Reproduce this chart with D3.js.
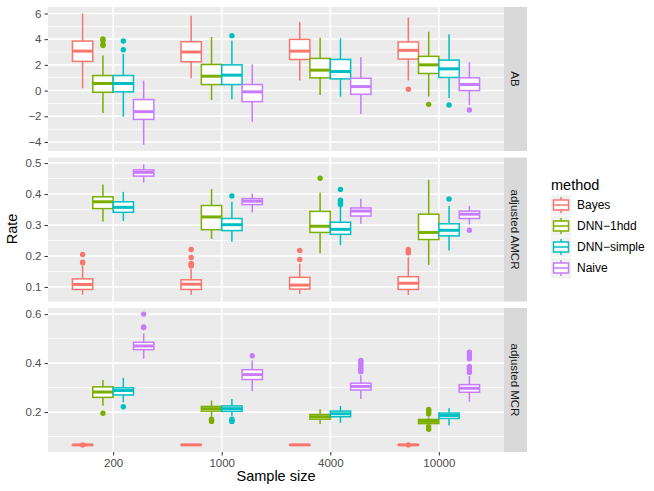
<!DOCTYPE html>
<html><head><meta charset="utf-8">
<script src="https://cdn.jsdelivr.net/npm/d3@7"></script>
<style>body{margin:0;background:#fff}svg{display:block;font-family:"Liberation Sans",Arial,Helvetica,sans-serif}</style>
</head><body><svg id="c" width="654" height="491"></svg>
<script>
const sampleSizes = ["200","1000","4000","10000"];
const methods = ["Bayes","DNN\u22121hdd","DNN\u2212simple","Naive"];
const metrics = ["AB","adjusted AMCR","adjusted MCR"];
const colors = ["#F8766D","#7CAE00","#00BFC4","#C77CFF"];

// five-number summaries [lowWhisker, q1, median, q3, highWhisker] per sample size
const abBayes   = [[0.18,2.27,3.07,3.85,5.99],[0.96,2.24,3.0,3.8,5.81],[0.78,2.42,3.07,3.98,5.34],[0.78,2.45,3.13,3.78,5.68]];
const abDnn1    = [[-1.74,-0.13,0.55,1.17,2.73],[-0.73,0.47,1.12,2.03,4.17],[-0.34,0.99,1.59,2.5,4.11],[-0.47,1.33,2.0,2.66,4.58]];
const abDnnS    = [[-2.03,-0.1,0.55,1.17,2.86],[-0.68,0.47,1.2,2.0,3.9],[-0.47,0.91,1.48,2.42,4.06],[-0.57,1.02,1.69,2.37,4.38]];
const abNaive   = [[-4.22,-2.24,-1.64,-0.7,0.78],[-2.42,-0.86,-0.1,0.47,2.03],[-1.82,-0.29,0.31,0.96,2.6],[-1.12,0.0,0.47,0.99,2.21]];
const abOutBayes = [[],[],[],[0.1]];
const abOutDnn1  = [[4.02,3.9,3.6,3.5],[],[],[-1.07]];
const abOutDnnS  = [[3.85,3.18],[4.27],[],[-1.12]];
const abOutNaive = [[],[],[],[-1.51]];

const amBayes   = [[0.075,0.092,0.108,0.126,0.169],[0.075,0.092,0.109,0.123,0.158],[0.077,0.093,0.106,0.131,0.175],[0.074,0.092,0.112,0.133,0.196]];
const amDnn1    = [[0.311,0.353,0.375,0.391,0.431],[0.255,0.285,0.326,0.363,0.416],[0.209,0.276,0.296,0.344,0.405],[0.171,0.253,0.276,0.335,0.446]];
const amDnnS    = [[0.313,0.341,0.357,0.375,0.407],[0.246,0.282,0.301,0.321,0.375],[0.235,0.27,0.286,0.309,0.358],[0.218,0.265,0.283,0.304,0.361]];
const amNaive   = [[0.437,0.458,0.47,0.478,0.496],[0.34,0.366,0.377,0.385,0.402],[0.304,0.329,0.345,0.355,0.385],[0.302,0.321,0.335,0.345,0.362]];
const amOutBayes = [[0.205,0.18,0.178],[0.221,0.195,0.176,0.172,0.168],[0.218,0.189],[0.221,0.216,0.21]];
const amOutDnn1  = [[],[],[0.451],[]];
const amOutDnnS  = [[],[0.394],[0.415,0.38,0.375,0.37,0.366],[0.384]];
const amOutNaive = [[],[],[],[0.283]];

const mcBayes   = [[0.063,0.065,0.066,0.067,0.069],[0.063,0.065,0.066,0.067,0.069],[0.063,0.065,0.066,0.067,0.069],[0.063,0.065,0.066,0.067,0.069]];
const mcDnn1    = [[0.226,0.26,0.282,0.303,0.331],[0.181,0.204,0.214,0.223,0.247],[0.151,0.171,0.181,0.19,0.212],[0.144,0.153,0.162,0.17,0.178]];
const mcDnnS    = [[0.24,0.27,0.288,0.299,0.34],[0.185,0.203,0.214,0.225,0.253],[0.156,0.181,0.193,0.204,0.225],[0.145,0.174,0.186,0.196,0.216]];
const mcNaive   = [[0.418,0.455,0.47,0.485,0.521],[0.285,0.333,0.353,0.373,0.411],[0.253,0.29,0.305,0.318,0.35],[0.242,0.281,0.297,0.312,0.347]];
const mcOutBayes = [[0.066],[],[],[0.066]];
const mcOutDnn1  = [[0.195],[0.171,0.165,0.162],[],[0.211,0.205,0.2,0.192,0.14,0.13]];
const mcOutDnnS  = [[0.222],[0.171,0.165,0.162],[],[]];
const mcOutNaive = [[0.6,0.548,0.545],[0.43],[0.411,0.405,0.398,0.39,0.38,0.372,0.365],[0.445,0.435,0.425,0.418,0.386,0.378,0.37,0.362]];

const abTicks = [-4,-2,0,2,4,6];
const amTicks = [0.1,0.2,0.3,0.4,0.5];
const mcTicks = [0.2,0.4,0.6];
const abMinor = [-3,-1,1,3,5];
const amMinor = [0.15,0.25,0.35,0.45];
const mcMinor = [0.1,0.3,0.5];

const panels = [
  {name:metrics[0], stats:[abBayes,abDnn1,abDnnS,abNaive], outs:[abOutBayes,abOutDnn1,abOutDnnS,abOutNaive], domain:[-4.7,6.5], ticks:abTicks, minor:abMinor, fmt:d3.format("d")},
  {name:metrics[1], stats:[amBayes,amDnn1,amDnnS,amNaive], outs:[amOutBayes,amOutDnn1,amOutDnnS,amOutNaive], domain:[0.053,0.518], ticks:amTicks, minor:amMinor, fmt:d3.format(".1f")},
  {name:metrics[2], stats:[mcBayes,mcDnn1,mcDnnS,mcNaive], outs:[mcOutBayes,mcOutDnn1,mcOutDnnS,mcOutNaive], domain:[0.037,0.625], ticks:mcTicks, minor:mcMinor, fmt:d3.format(".1f")}
];

const svg = d3.select("#c");
const L = 48, R = 504, stripW = 23;
const tops = [7, 157.5, 308], H = 144;
const x = d3.scaleLinear().domain([0.4, 4.6]).range([L, R]);
const dodge = 0.75/4;
const textCol = "#4D4D4D";

panels.forEach((p, pi) => {
  const top = tops[pi], bot = top + H;
  const y = d3.scaleLinear().domain(p.domain).range([bot, top]);
  const g = svg.append("g");
  g.append("rect").attr("x", L).attr("y", top).attr("width", R-L).attr("height", H).attr("fill", "#EBEBEB");
  // minor grid
  g.selectAll(".mn").data(p.minor).join("line").attr("x1", L).attr("x2", R)
    .attr("y1", d=>y(d)).attr("y2", d=>y(d)).attr("stroke", "#fff").attr("stroke-width", 0.8);
  g.selectAll(".mj").data(p.ticks).join("line").attr("x1", L).attr("x2", R)
    .attr("y1", d=>y(d)).attr("y2", d=>y(d)).attr("stroke", "#fff").attr("stroke-width", 1.6);
  g.selectAll(".vx").data(sampleSizes).join("line").attr("x1", (d,i)=>x(i+1)).attr("x2", (d,i)=>x(i+1))
    .attr("y1", top).attr("y2", bot).attr("stroke", "#fff").attr("stroke-width", 1.6);
  // y axis
  const ax = g.append("g").attr("transform", `translate(${L},0)`)
    .call(d3.axisLeft(y).tickValues(p.ticks).tickFormat(p.fmt).tickSize(3.5).tickPadding(3));
  ax.select(".domain").remove();
  ax.selectAll("line").attr("stroke", "#333").attr("stroke-width", 1);
  ax.selectAll("text").attr("fill", textCol).style("font-size", "11.5px").style("font-family", '"Liberation Sans",Arial,sans-serif');
  // strip
  g.append("rect").attr("x", R).attr("y", top).attr("width", stripW).attr("height", H).attr("fill", "#D9D9D9");
  g.append("text").attr("transform", `translate(${R+stripW/2},${top+H/2}) rotate(90)`)
    .attr("text-anchor", "middle").attr("dy", "0.35em").attr("fill", "#1A1A1A").style("font-size", "11.5px").text(p.name);
  // boxes
  p.stats.forEach((ms, mi) => {
    ms.forEach((s, si) => {
      const cx = x(si + 1 + (mi - 1.5) * dodge);
      const hw = (x(dodge) - x(0)) / 2;
      const col = colors[mi];
      const b = g.append("g");
      b.append("line").attr("x1", cx).attr("x2", cx).attr("y1", y(s[4])).attr("y2", y(s[3])).attr("stroke", col).attr("stroke-width", 1.5);
      b.append("line").attr("x1", cx).attr("x2", cx).attr("y1", y(s[1])).attr("y2", y(s[0])).attr("stroke", col).attr("stroke-width", 1.5);
      b.append("rect").attr("x", cx-hw).attr("y", y(s[3])).attr("width", 2*hw).attr("height", Math.max(0.01, y(s[1])-y(s[3])))
        .attr("fill", "#fff").attr("stroke", col).attr("stroke-width", 1.5);
      b.append("line").attr("x1", cx-hw).attr("x2", cx+hw).attr("y1", y(s[2])).attr("y2", y(s[2])).attr("stroke", col).attr("stroke-width", 3);
      b.selectAll("circle").data(p.outs[mi][si]).join("circle").attr("cx", cx).attr("cy", d=>y(d)).attr("r", 2.7).attr("fill", col);
    });
  });
});

// x axis
const xa = svg.append("g").attr("transform", `translate(0,${tops[2]+H})`)
  .call(d3.axisBottom(x).tickValues([1,2,3,4]).tickFormat((d,i)=>sampleSizes[i]).tickSize(3.5).tickPadding(3));
xa.select(".domain").remove();
xa.selectAll("line").attr("stroke", "#333");
xa.selectAll("text").attr("fill", textCol).style("font-size", "11.5px").style("font-family", '"Liberation Sans",Arial,sans-serif');

svg.append("text").attr("x", (L+R)/2).attr("y", 481).attr("text-anchor", "middle").style("font-size", "14.5px").attr("fill", "#000").text("Sample size");
svg.append("text").attr("transform", `translate(17,229) rotate(-90)`).attr("text-anchor", "middle").style("font-size", "14.5px").attr("fill", "#000").text("Rate");

// legend
const lg = svg.append("g");
lg.append("text").attr("x", 551).attr("y", 190).style("font-size", "14.5px").attr("fill", "#000").text("method");
methods.forEach((m, i) => {
  const ky = 195 + i*21, kx = 551, kw = 20, kh = 20;
  const col = colors[i];
  lg.append("rect").attr("x", kx).attr("y", ky).attr("width", kw).attr("height", kh).attr("fill", "#F2F2F2");
  const cx = kx + kw/2;
  lg.append("line").attr("x1", cx).attr("x2", cx).attr("y1", ky+kh*0.1).attr("y2", ky+kh*0.25).attr("stroke", col).attr("stroke-width", 1.5);
  lg.append("line").attr("x1", cx).attr("x2", cx).attr("y1", ky+kh*0.75).attr("y2", ky+kh*0.9).attr("stroke", col).attr("stroke-width", 1.5);
  lg.append("rect").attr("x", kx+kw*0.125).attr("y", ky+kh*0.25).attr("width", kw*0.75).attr("height", kh*0.5)
    .attr("fill", "#fff").attr("stroke", col).attr("stroke-width", 1.5);
  lg.append("line").attr("x1", kx+kw*0.125).attr("x2", kx+kw*0.875).attr("y1", ky+kh*0.5).attr("y2", ky+kh*0.5).attr("stroke", col).attr("stroke-width", 1.5);
  lg.append("text").attr("x", 577).attr("y", ky+kh/2).attr("dy", "0.35em").style("font-size", "12px").attr("fill", "#000").text(m);
});
</script></body></html>
